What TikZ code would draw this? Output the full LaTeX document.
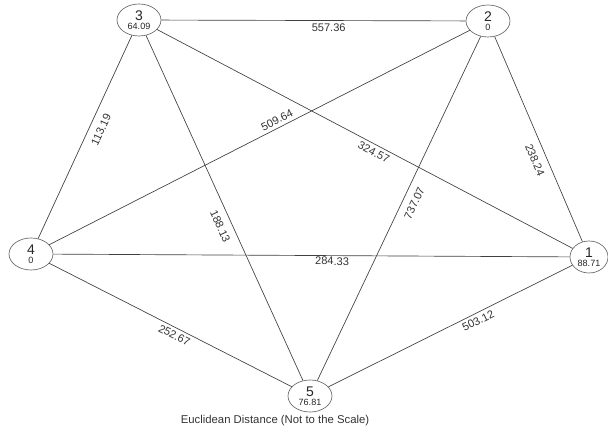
\documentclass[tikz,border=0pt]{standalone}
\usepackage{fontspec}
\setmainfont{Liberation Sans}
\usetikzlibrary{shapes.geometric}
\begin{document}
\begin{tikzpicture}[x=0.75pt,y=-0.75pt,
  city/.style={ellipse,draw=black!60,line width=0.5pt,minimum width=33pt,minimum height=24pt,inner sep=0pt,align=center,text=black!85,font=\fontsize{6.8}{7}\selectfont},
  road/.style={draw=black!75,line width=0.5pt},
  dist/.style={font=\fontsize{8.3}{8.3}\selectfont,text=black!80,inner sep=5.5pt,sloped}
]
\useasboundingbox (0,0) rectangle (608,431);
\node[city] (n3) at (139,20) {{\fontsize{10.5}{10}\selectfont 3}\\64.09};
\node[city] (n2) at (488,21) {{\fontsize{10.5}{10}\selectfont 2}\\0};
\node[city] (n4) at (31,254) {{\fontsize{10.5}{10}\selectfont 4}\\0};
\node[city,minimum width=28.5pt] (n1) at (589,257) {{\fontsize{10.5}{10}\selectfont 1}\\88.71};
\node[city] (n5) at (310,396) {{\fontsize{10.5}{10}\selectfont 5}\\76.81};

\draw[road] (n4) -- (n3) node[dist,pos=0.56,below]{113.19};
\draw[road] (n3) -- (n2) node[dist,pos=0.55,below,inner sep=2.5pt]{557.36};
\draw[road] (n3) -- (n5) node[dist,pos=0.54,below]{188.13};
\draw[road] (n3) -- (n1) node[dist,pos=0.53,below,inner sep=2.5pt]{324.57};
\draw[road] (n4) -- (n2) node[dist,pos=0.55,above,inner sep=2.5pt]{509.64};
\draw[road] (n2) -- (n1) node[dist,pos=0.58,below]{238.24};
\draw[road] (n5) -- (n2) node[dist,pos=0.53,below]{737.07};
\draw[road] (n4) -- (n1) node[dist,pos=0.54,below,inner sep=1pt]{284.33};
\draw[road] (n4) -- (n5) node[dist,pos=0.53,below,inner sep=2.5pt]{252.67};
\draw[road] (n5) -- (n1) node[dist,pos=0.6,below,inner sep=2.5pt]{503.12};

\node[font=\fontsize{8.5}{9}\selectfont,text=black!80] (cap) at (275,421) {Euclidean Distance (Not to the Scale)};
\end{tikzpicture}
\end{document}
